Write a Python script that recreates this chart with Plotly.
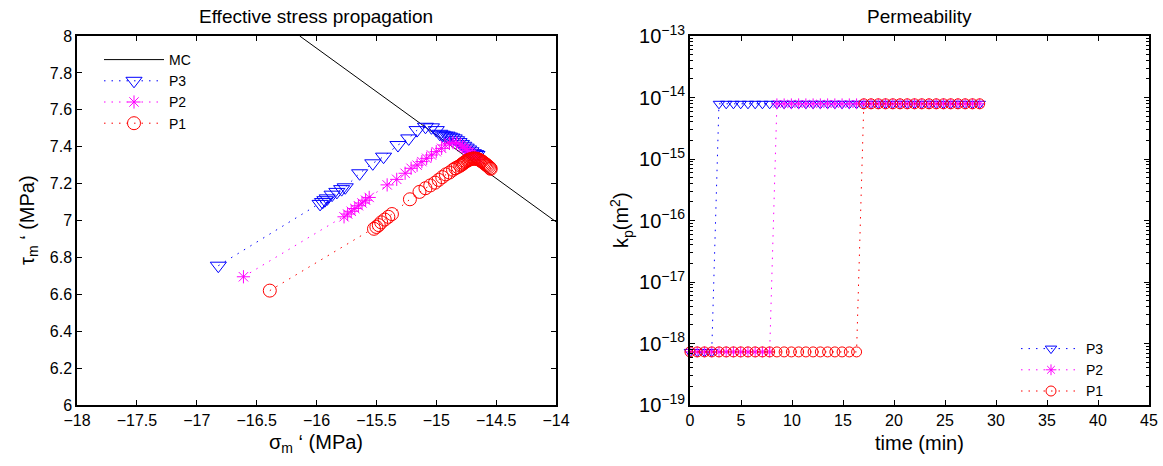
import plotly.graph_objects as go

# ---------------- Effective stress path data (MPa) ----------------
mc_sigma = [-16.14, -14.0]
mc_tau = [8.0, 6.993]

p3_sigma = [-16.82,
            -15.97, -15.95, -15.93, -15.91, -15.87, -15.83, -15.79, -15.76,
            -15.64, -15.53, -15.44, -15.32, -15.23, -15.16, -15.09, -15.04, -15.00,
            -14.97, -14.95, -14.93, -14.91, -14.89, -14.87, -14.85, -14.83, -14.81,
            -14.79, -14.77, -14.75, -14.73, -14.71, -14.69, -14.67, -14.66]
p3_tau = [6.755,
          7.09, 7.10, 7.11, 7.12, 7.14, 7.155, 7.17, 7.18,
          7.256, 7.31, 7.346, 7.409, 7.445, 7.49, 7.508, 7.505, 7.49,
          7.47, 7.465, 7.46, 7.46, 7.455, 7.45, 7.445, 7.435, 7.425,
          7.415, 7.405, 7.395, 7.385, 7.375, 7.365, 7.36, 7.355]

p2_sigma = [-16.61,
            -15.77, -15.74, -15.71, -15.68, -15.65, -15.62, -15.59, -15.56,
            -15.41, -15.33, -15.26, -15.21, -15.16, -15.12, -15.08, -15.04, -15.00,
            -14.955, -14.927, -14.89, -14.86, -14.83, -14.80, -14.78, -14.76, -14.74,
            -14.72, -14.70, -14.68, -14.66, -14.64]
p2_tau = [6.695,
          7.02, 7.035, 7.05, 7.065, 7.08, 7.095, 7.11, 7.125,
          7.193, 7.223, 7.256, 7.283, 7.30, 7.319, 7.337, 7.355, 7.373,
          7.391, 7.409, 7.418, 7.422, 7.42, 7.41, 7.40, 7.39, 7.38,
          7.37, 7.36, 7.35, 7.34, 7.33]

p1_sigma = [-16.39,
            -15.52, -15.50, -15.48, -15.46, -15.43, -15.40, -15.37,
            -15.22, -15.14, -15.09, -15.05, -15.01, -14.98, -14.95, -14.92, -14.89,
            -14.86, -14.84, -14.82, -14.80, -14.79, -14.78, -14.77, -14.76, -14.75,
            -14.74, -14.73, -14.72, -14.71, -14.70, -14.69, -14.68, -14.67, -14.66,
            -14.65, -14.64, -14.63, -14.62, -14.61, -14.60, -14.59, -14.58, -14.57,
            -14.56, -14.55, -14.545]
p1_tau = [6.62,
          6.955, 6.965, 6.975, 6.99, 7.005, 7.02, 7.035,
          7.115, 7.155, 7.175, 7.19, 7.205, 7.22, 7.235, 7.25, 7.26,
          7.275, 7.283, 7.29, 7.297, 7.302, 7.307, 7.312, 7.317, 7.321,
          7.325, 7.328, 7.331, 7.333, 7.335, 7.336, 7.336, 7.335, 7.334,
          7.332, 7.329, 7.325, 7.321, 7.316, 7.311, 7.306, 7.301, 7.296,
          7.29, 7.284, 7.28]

# ---------------- Permeability history ----------------
time_min = [0.0, 0.71, 1.42, 2.13, 2.84, 3.55, 4.26, 4.97, 5.68, 6.39,
            7.10, 7.81, 8.52, 9.23, 9.94, 10.65, 11.36, 12.07, 12.78, 13.49,
            14.20, 14.91, 15.62, 16.33, 17.04, 17.75, 18.46, 19.17, 19.88, 20.59,
            21.30, 22.01, 22.72, 23.43, 24.14, 24.85, 25.56, 26.27, 26.98, 27.69,
            28.40]
k_low = 7.3e-19    # intact permeability (m^2)
k_high = 7.9e-15   # permeability after failure (m^2)
n_low_p3, n_low_p2, n_low_p1 = 4, 12, 24   # steps before the jump
k_p3 = [k_low] * n_low_p3 + [k_high] * (len(time_min) - n_low_p3)
k_p2 = [k_low] * n_low_p2 + [k_high] * (len(time_min) - n_low_p2)
k_p1 = [k_low] * n_low_p1 + [k_high] * (len(time_min) - n_low_p1)

BLUE, MAGENTA, RED = "rgb(0,0,255)", "rgb(255,0,255)", "rgb(255,0,0)"
FONT = "Liberation Sans, Arial, Helvetica, sans-serif"
DOT = "1.5px,6px"

fig = go.Figure()

fig.add_trace(go.Scatter(x=mc_sigma, y=mc_tau, mode="lines", name="MC",
                         line=dict(color="black", width=1),
                         xaxis="x", yaxis="y", legend="legend"))

series = [
    ("P3", p3_sigma, p3_tau, k_p3, BLUE, "triangle-down-open", 14, 10),
    ("P2", p2_sigma, p2_tau, k_p2, MAGENTA, "asterisk-open", 11, 9),
    ("P1", p1_sigma, p1_tau, k_p1, RED, "circle-open", 13, 10),
]
for name, sx, sy, kv, col, sym, size_l, size_r in series:
    fig.add_trace(go.Scatter(
        x=sx, y=sy, mode="lines+markers", name=name,
        line=dict(color=col, width=1, dash=DOT),
        marker=dict(symbol=sym, size=size_l, color=col, line=dict(color=col, width=1)),
        xaxis="x", yaxis="y", legend="legend"))
for name, sx, sy, kv, col, sym, size_l, size_r in series:
    fig.add_trace(go.Scatter(
        x=time_min, y=kv, mode="lines+markers", name=name,
        line=dict(color=col, width=1, dash=DOT),
        marker=dict(symbol=sym, size=size_r, color=col, line=dict(color=col, width=1)),
        cliponaxis=False,
        xaxis="x2", yaxis="y2", legend="legend2"))

W, H = 1163, 466
def px_x(v):
    return v / W
def px_y(v):
    return 1 - v / H

axis_common = dict(showline=True, linecolor="black", linewidth=1.5, mirror="ticks",
                   ticks="inside", ticklen=5, tickcolor="black", showgrid=False,
                   zeroline=False, automargin=False,
                   tickfont=dict(family=FONT, size=16, color="black"))

fig.update_layout(
    width=W, height=H,
    margin=dict(l=0, r=0, t=0, b=0),
    paper_bgcolor="white", plot_bgcolor="white",
    font=dict(family=FONT, color="black"),
    xaxis=dict(domain=[px_x(77), px_x(556)], range=[-18, -14],
               tickvals=[-18, -17.5, -17, -16.5, -16, -15.5, -15, -14.5, -14],
               anchor="y", **axis_common),
    yaxis=dict(domain=[px_y(405), px_y(36)], range=[6, 8],
               tickvals=[6, 6.2, 6.4, 6.6, 6.8, 7, 7.2, 7.4, 7.6, 7.8, 8],
               anchor="x", **axis_common),
    xaxis2=dict(domain=[px_x(690), px_x(1149)], range=[0, 45], dtick=5,
                anchor="y2", **axis_common),
    yaxis2=dict(domain=[px_y(405), px_y(36)], type="log", range=[-19, -13],
                dtick=1, exponentformat="power", showexponent="all",
                minor=dict(ticks="inside", ticklen=3, tickcolor="black"),
                anchor="x2", **axis_common),
    legend=dict(x=px_x(99), y=px_y(44), xanchor="left", yanchor="top",
                bgcolor="rgba(255,255,255,0)", borderwidth=0,
                font=dict(family=FONT, size=14, color="black"),
                tracegroupgap=0, itemwidth=60),
    legend2=dict(x=px_x(1016), y=px_y(333), xanchor="left", yanchor="top",
                 bgcolor="rgba(255,255,255,0)", borderwidth=0,
                 font=dict(family=FONT, size=14, color="black"),
                 tracegroupgap=0, itemwidth=60),
    showlegend=True,
)

annotations = [
    dict(text="Effective stress propagation", x=px_x(316), y=px_y(16), size=19),
    dict(text="Permeability", x=px_x(919), y=px_y(16), size=19),
    dict(text="σ<sub>m</sub> ‘ (MPa)", x=px_x(316), y=px_y(443), size=20),
    dict(text="time (min)", x=px_x(919), y=px_y(443), size=20),
    dict(text="τ<sub>m</sub> ‘ (MPa)", x=px_x(28), y=px_y(220), size=20, angle=-90),
    dict(text="k<sub>p</sub>(m<sup>2</sup>)", x=px_x(621), y=px_y(220), size=20, angle=-90),
]
for a in annotations:
    fig.add_annotation(text=a["text"], x=a["x"], y=a["y"], xref="paper", yref="paper",
                       xanchor="center", yanchor="middle", showarrow=False,
                       textangle=a.get("angle", 0),
                       font=dict(family=FONT, size=a["size"], color="black"))

fig.write_html("out.html")
